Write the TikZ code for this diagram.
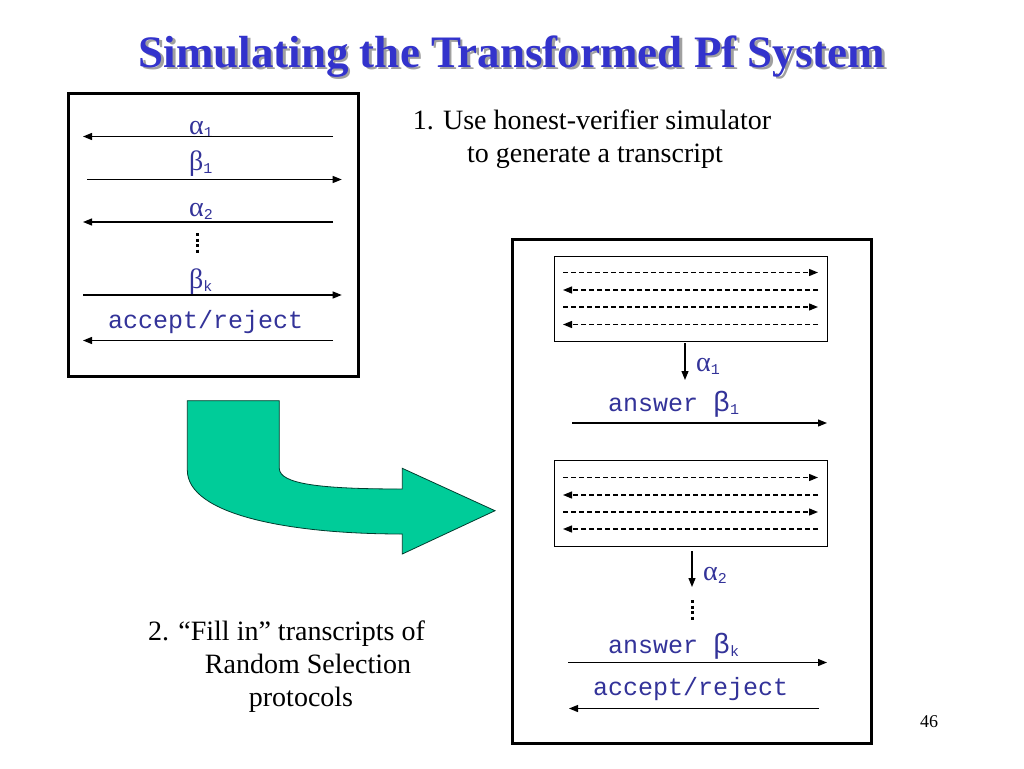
\documentclass[tikz,border=0pt]{standalone}
\usepackage{fontspec}
\setmainfont{Liberation Serif}
\setmonofont{Liberation Mono}
\usetikzlibrary{arrows.meta}
\definecolor{titleblue}{RGB}{51,51,204}
\definecolor{txtblue}{RGB}{51,51,153}
\definecolor{arrowgreen}{RGB}{0,204,153}
\definecolor{shadowgray}{RGB}{160,160,160}
\newcommand{\grk}[2]{{\fontsize{28}{28}\selectfont #1}\raisebox{-3pt}{\fontsize{15}{15}\selectfont\ttfamily #2}}
\newcommand{\shadowtext}[1]{\rlap{\hspace{2.5pt}\raisebox{-2.5pt}{\textcolor{shadowgray}{#1}}}\textcolor{titleblue}{#1}}
\begin{document}
\begin{tikzpicture}[x=1pt,y=-1pt,
  msg/.style={line width=1.2pt,-{Triangle[length=9pt,width=7pt]}},
  dmsg/.style={msg,line width=1.3pt,dash pattern=on 5pt off 3pt},
  lbl/.style={anchor=base west,inner sep=0pt,text=txtblue},
  mono/.style={lbl,font=\fontsize{25}{25}\selectfont\ttfamily},
  bodytxt/.style={anchor=base,inner sep=0pt,font=\fontsize{28}{34}\selectfont},
  vdotline/.style={line width=3pt,dash pattern=on 3pt off 2.5pt},
  thickbox/.style={draw,line width=3pt,inner sep=0pt},
  thinbox/.style={draw,line width=1pt,inner sep=0pt}
]
\useasboundingbox[fill=white] (0,0) rectangle (1024,768);

% title (with its shadow, one node)
\node[anchor=base,inner sep=0pt,font=\fontsize{45}{45}\selectfont\bfseries] (title) at (512,67) {\shadowtext{Simulating the Transformed Pf System}};

% left box
\node[thickbox,minimum width=290pt,minimum height=283pt] (leftbox) at (213,234.5) {};
\node[lbl] (la1) at (189,134) {\grk{α}{1}};
\coordinate (l1s) at (333,136.5); \coordinate (l1e) at (83,136.5);
\draw[msg] (l1s) -- (l1e);
\node[lbl] (lb1) at (189,170) {\grk{β}{1}};
\coordinate (l2s) at (87,179.5); \coordinate (l2e) at (341.7,179.5);
\draw[msg] (l2s) -- (l2e);
\node[lbl] (la2) at (189,216.5) {\grk{α}{2}};
\coordinate (l3s) at (333,222); \coordinate (l3e) at (83,222);
\draw[msg] (l3s) -- (l3e);
\coordinate (ld1) at (197,233); \coordinate (ld2) at (197,253);
\draw[vdotline] (ld1) -- (ld2);
\node[lbl] (lbk) at (189,288) {\grk{β}{k}};
\coordinate (l4s) at (83,295); \coordinate (l4e) at (341.7,295);
\draw[msg] (l4s) -- (l4e);
\node[mono] (lacc) at (108,328) {accept/reject};
\coordinate (l5s) at (333,340.5); \coordinate (l5e) at (83,340.5);
\draw[msg] (l5s) -- (l5e);

% step 1 text
\node[bodytxt] (s1a) at (592,129) {1. Use honest-verifier simulator};
\node[bodytxt] (s1b) at (595,162) {to generate a transcript};

% green arrow
\draw[fill=arrowgreen,draw=black!70!arrowgreen,line width=0.8pt]
  (187.3,400.7) -- (279.3,400.7) -- (279.3,468.3)
  .. controls (279.3,484) and (320,489) .. (402.3,489)
  -- (402.3,468.3) -- (495,510.7) -- (402.3,554) -- (402.3,534)
  .. controls (290,534) and (187.3,515) .. (187.3,470) -- cycle;

% step 2 text
\node[bodytxt] (s2a) at (286.5,640) {2. “Fill in” transcripts of};
\node[bodytxt] (s2b) at (308,673) {Random Selection};
\node[bodytxt] (s2c) at (301,706) {protocols};

% right box
\node[thickbox,minimum width=359pt,minimum height=504pt] (rightbox) at (691.5,491) {};
\node[thinbox,minimum width=273pt,minimum height=85pt] (sim1) at (690.5,298.5) {};
\node[thinbox,minimum width=273pt,minimum height=86pt] (sim2) at (690.5,503) {};

\foreach \yy/\dir in {272.5/1,290/0,307/1,324.5/0} {
  \coordinate (pa) at (563,\yy); \coordinate (pb) at (818,\yy);
  \ifnum\dir=1 \draw[dmsg] (pa) -- (pb); \else \draw[dmsg] (pb) -- (pa); \fi
}
\foreach \yy/\dir in {477.5/1,495/0,512/1,529/0} {
  \coordinate (pa) at (563,\yy); \coordinate (pb) at (818,\yy);
  \ifnum\dir=1 \draw[dmsg] (pa) -- (pb); \else \draw[dmsg] (pb) -- (pa); \fi
}

\coordinate (ra1s) at (685,343); \coordinate (ra1e) at (685,380);
\draw[msg] (ra1s) -- (ra1e);
\node[lbl] (ra1) at (696,371) {\grk{α}{1}};
\node[mono] (rb1) at (608,411.7) {answer \grk{β}{1}};
\coordinate (rb1s) at (572,423); \coordinate (rb1e) at (827,423);
\draw[msg] (rb1s) -- (rb1e);

\coordinate (ra2s) at (692,551); \coordinate (ra2e) at (692,587);
\draw[msg] (ra2s) -- (ra2e);
\node[lbl] (ra2) at (703,580) {\grk{α}{2}};
\coordinate (rd1) at (692,600); \coordinate (rd2) at (692,620);
\draw[vdotline] (rd1) -- (rd2);
\node[mono] (rbk) at (608,653) {answer \grk{β}{k}};
\coordinate (rbks) at (568,662.5); \coordinate (rbke) at (827,662.5);
\draw[msg] (rbks) -- (rbke);
\node[mono] (racc) at (593,695) {accept/reject};
\coordinate (raccs) at (819,708.5); \coordinate (racce) at (569,708.5);
\draw[msg] (raccs) -- (racce);

% page number
\node[anchor=base,inner sep=0pt,font=\fontsize{18}{18}\selectfont] (pagenum) at (929,727) {46};
\end{tikzpicture}
\end{document}
